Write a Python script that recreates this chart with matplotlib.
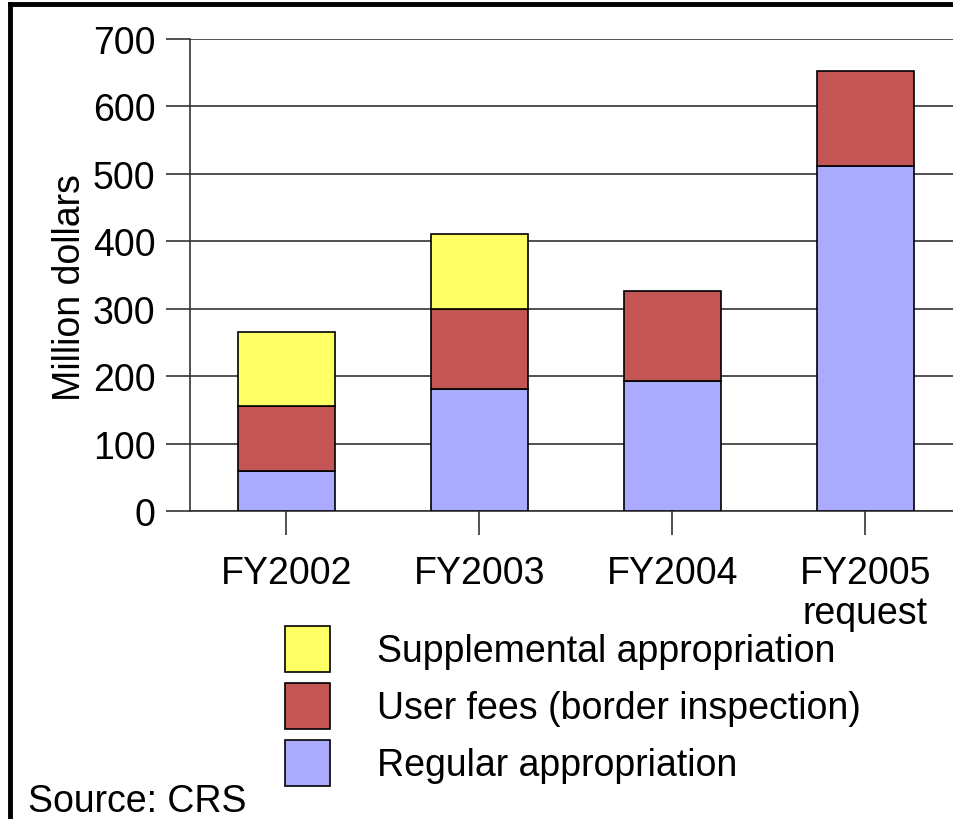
import numpy as np
import matplotlib
matplotlib.use("Agg")
import matplotlib.pyplot as plt
from matplotlib.lines import Line2D

plt.rcParams['font.family'] = ['Liberation Sans', 'DejaVu Sans']

# Datos (millones de dólares)
anios = ['FY2002', 'FY2003', 'FY2004', 'FY2005\nrequest']
regular = [59, 181, 193, 512]
tarifas = [97, 119, 133, 141]
suplemento = [109, 111, 0, 0]

series = ['Regular appropriation', 'User fees (border inspection)', 'Supplemental appropriation']
colores = ['#AAAAFF', '#C35555', '#FFFF66']

fig = plt.figure(figsize=(9.54, 8.2), dpi=100)
ax = fig.add_axes([190 / 954, 1 - 512 / 820, 772 / 954, 472 / 820])

x = np.arange(len(anios))
ancho = 0.5
base = np.zeros(len(anios))
barras = []
for valores, nombre, color in zip([regular, tarifas, suplemento], series, colores):
    valores = np.array(valores, dtype=float)
    mascara = valores > 0
    b = ax.bar(x[mascara], valores[mascara], ancho, bottom=base[mascara], color=color,
               edgecolor='black', linewidth=1.2, label=nombre, zorder=3)
    barras.append(b)
    base = base + valores

ax.set_xlim(-0.5, 3.5)
ax.set_ylim(0, 700)
ax.set_yticks(np.arange(0, 701, 100))
ax.set_xticks(x)
ax.set_xticklabels(anios, fontsize=27, linespacing=1.12)
ax.tick_params(axis='y', labelsize=27, length=17, width=1.2, color='#333333', pad=8)
ax.tick_params(axis='x', length=17, width=1.2, color='#333333', pad=15)
ax.yaxis.grid(True, color='#333333', linewidth=1.2, zorder=0)
ax.set_axisbelow(True)
for lado in ['top', 'right']:
    ax.spines[lado].set_visible(False)
ax.spines['left'].set_color('#333333')
ax.spines['bottom'].set_color('#333333')
ax.spines['left'].set_linewidth(1.2)
ax.spines['bottom'].set_linewidth(1.2)
ax.set_ylabel('Million dollars', fontsize=27)
ax.yaxis.set_label_coords(-0.132, 0.475)

# Leyenda (orden invertido: suplemento arriba)
fig.legend(barras[::-1], series[::-1], loc='upper left',
           bbox_to_anchor=(285 / 954, 1 - 627 / 820), frameon=False, fontsize=27,
           borderpad=0, borderaxespad=0, handlelength=1.2, handleheight=1.5,
           handletextpad=1.25, labelspacing=0.3)

fig.text(28 / 954, 1 - 802 / 820, 'Source: CRS', fontsize=27, va='center', ha='left')

# Marco exterior
fig.add_artist(Line2D([10 / 954, 1], [1 - 5 / 820, 1 - 5 / 820], color='black', linewidth=3.5))
fig.add_artist(Line2D([10 / 954, 10 / 954], [0, 1 - 5 / 820], color='black', linewidth=3.5))

fig.savefig('out.png', dpi=100)
